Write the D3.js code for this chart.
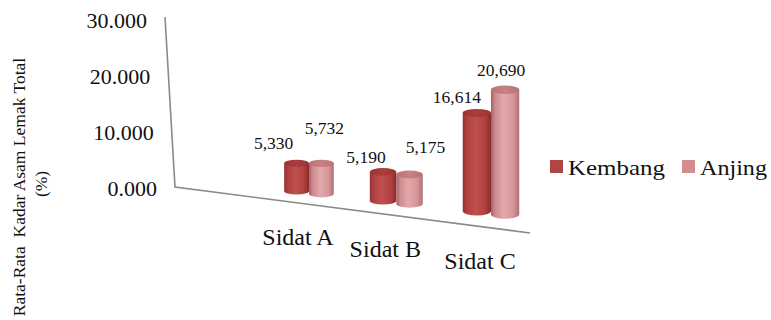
<!DOCTYPE html>
<html>
<head>
<meta charset="utf-8">
<script src="https://cdn.jsdelivr.net/npm/d3@7/dist/d3.min.js"></script>
<style>
  html, body { margin: 0; padding: 0; background: #fff; }
  svg { display: block; }
</style>
</head>
<body>
<div id="chart"></div>
<script>
// Average total fatty-acid content per sample, two series
const categories = ["Sidat A", "Sidat B", "Sidat C"];
const seriesNames = ["Kembang", "Anjing"];
const kembang = [5.330, 5.190, 16.614];
const anjing = [5.732, 5.175, 20.690];
const yTicks = [0, 10, 20, 30];

// Label nudges (px) from the top of each cylinder
const kembangLabelNudge = [[-23, -20], [-17, -15], [-20, -16]];
const anjingLabelNudge = [[3, -36], [16, -28], [-4, -20]];

const FONT = '"Liberation Serif", "Times New Roman", serif';

const width = 771, height = 320;
const svg = d3.select("#chart").append("svg")
  .attr("width", width).attr("height", height);

const defs = svg.append("defs");
function gradient(id, stops) {
  const g = defs.append("linearGradient").attr("id", id)
    .attr("x1", "0%").attr("x2", "100%").attr("y1", "0%").attr("y2", "0%");
  stops.forEach(([o, c]) => g.append("stop").attr("offset", o).attr("stop-color", c));
}
gradient("gKembang", [["0%", "#96302f"], ["15%", "#b04141"], ["45%", "#c0504c"], ["78%", "#b24242"], ["100%", "#8b2a2a"]]);
gradient("gAnjing", [["0%", "#a56266"], ["15%", "#cf8c90"], ["45%", "#e3a8ab"], ["78%", "#d6969a"], ["100%", "#b07276"]]);
gradient("gKembangTop", [["0%", "#9c3334"], ["50%", "#aa3d3d"], ["100%", "#9c3334"]]);
gradient("gAnjingTop", [["0%", "#b97276"], ["50%", "#c78286"], ["100%", "#b97276"]]);

const colors = {
  Kembang: { body: "url(#gKembang)", top: "url(#gKembangTop)", key: "#b04545" },
  Anjing: { body: "url(#gAnjing)", top: "url(#gAnjingTop)", key: "#d48c8e" }
};

// Back wall value axis (slightly slanted)
const yAxisScale = d3.scaleLinear().domain([0, 30]).range([188, 20]);
const wallX = d3.scaleLinear().domain([0, 30]).range([175, 165]);
const wallTopY = d3.scaleLinear().domain([0, 30]).range([187, 17]);

// Floor front edge
const floorEdgeY = d3.scaleLinear().domain([175, 530]).range([187, 233]);

// Cluster placement with a mild perspective growth to the right
const xIndex = d3.scalePow().exponent(1.06).domain([0, categories.length - 1]).range([309, 491]);
const xCat = c => xIndex(categories.indexOf(c));
const depth = d3.scaleLinear().domain([297, 505]).range([1, 1.16]);
const baseY = d3.scaleLinear().domain([297, 505]).range([191, 214.5]);
const unitH = d3.scaleLinear().domain([0, 1]).range([0, 5.2]);
const baseRx = 12.3, baseRy = 3.6;

function txt(sel) {
  return sel.style("font-family", FONT).attr("fill", "#111");
}

// Axis lines
svg.append("path")
  .attr("d", d3.line()([
    [wallX(30), wallTopY(30)],
    [wallX(0), wallTopY(0)],
    [530, floorEdgeY(530)]
  ]))
  .attr("fill", "none").attr("stroke", "#8a8a8a").attr("stroke-width", 1.6);

// Tick labels
const fmtTick = d3.format(".3f");
svg.selectAll("text.tick").data(yTicks).join("text")
  .attr("class", "tick")
  .attr("x", d => wallX(d) - 18)
  .attr("y", d => yAxisScale(d))
  .attr("dy", "0.35em")
  .attr("text-anchor", "end")
  .attr("font-size", 22)
  .call(txt)
  .text(d => fmtTick(d));

// Axis title
svg.append("g").attr("transform", "translate(19,187) rotate(-90)")
  .append("text").attr("text-anchor", "middle").attr("dy", "0.35em")
  .attr("font-size", 17.5).style("white-space", "pre")
  .call(txt)
  .text("Rata-Rata  Kadar Asam Lemak Total");
svg.append("g").attr("transform", "translate(41,184) rotate(-90)")
  .append("text").attr("text-anchor", "middle").attr("dy", "0.35em")
  .attr("font-size", 17.5)
  .call(txt)
  .text("(%)");

// Build cylinders
const fmtVal = d3.formatLocale({ decimal: ",", thousands: ".", grouping: [3], currency: ["", ""] }).format(".3f");
const bars = [];
categories.forEach((c, i) => {
  const cc = xCat(c);
  const rx = baseRx * depth(cc);
  [[kembang, "Kembang", -1, kembangLabelNudge], [anjing, "Anjing", 1, anjingLabelNudge]].forEach(([vals, name, side, nudge]) => {
    const cx = cc + side * rx;
    const s = depth(cx);
    const yb = baseY(cx);
    const h = unitH(vals[i]) * s;
    bars.push({ name, cx, rx, ry: baseRy * s, yb, yt: yb - h, value: vals[i], nudge: nudge[i] });
  });
});

const cyl = svg.append("g").selectAll("g").data(bars).join("g");
cyl.append("path")
  .attr("d", d => `M${d.cx - d.rx},${d.yt} L${d.cx - d.rx},${d.yb} A${d.rx},${d.ry} 0 0 0 ${d.cx + d.rx},${d.yb} L${d.cx + d.rx},${d.yt} Z`)
  .attr("fill", d => colors[d.name].body);
cyl.append("ellipse")
  .attr("cx", d => d.cx).attr("cy", d => d.yt)
  .attr("rx", d => d.rx).attr("ry", d => d.ry)
  .attr("fill", d => colors[d.name].top);

// Value labels
svg.selectAll("text.val").data(bars).join("text")
  .attr("class", "val")
  .attr("x", d => d.cx + d.nudge[0])
  .attr("y", d => d.yt + d.nudge[1])
  .attr("dy", "0.35em")
  .attr("text-anchor", "middle")
  .attr("font-size", 17.5)
  .call(txt)
  .text(d => fmtVal(d.value));

// Category labels along the floor edge
svg.selectAll("text.cat").data(categories).join("text")
  .attr("class", "cat")
  .attr("x", d => xCat(d) - 11)
  .attr("y", d => floorEdgeY(xCat(d)) + 32.5)
  .attr("dy", "0.35em")
  .attr("text-anchor", "middle")
  .attr("font-size", 24)
  .call(txt)
  .text(d => d);

// Legend
const legendX = [550, 682];
const legendLen = [97, 67];
const lg = svg.selectAll("g.legend").data(seriesNames).join("g")
  .attr("class", "legend")
  .attr("transform", (d, i) => `translate(${legendX[i]},160)`);
lg.append("rect").attr("width", 13).attr("height", 13)
  .attr("fill", d => colors[d].key);
lg.append("text")
  .attr("x", 18).attr("y", 15)
  .attr("font-size", 22)
  .attr("textLength", (d, i) => legendLen[i])
  .attr("lengthAdjust", "spacingAndGlyphs")
  .call(txt)
  .text(d => d);
</script>
</body>
</html>
